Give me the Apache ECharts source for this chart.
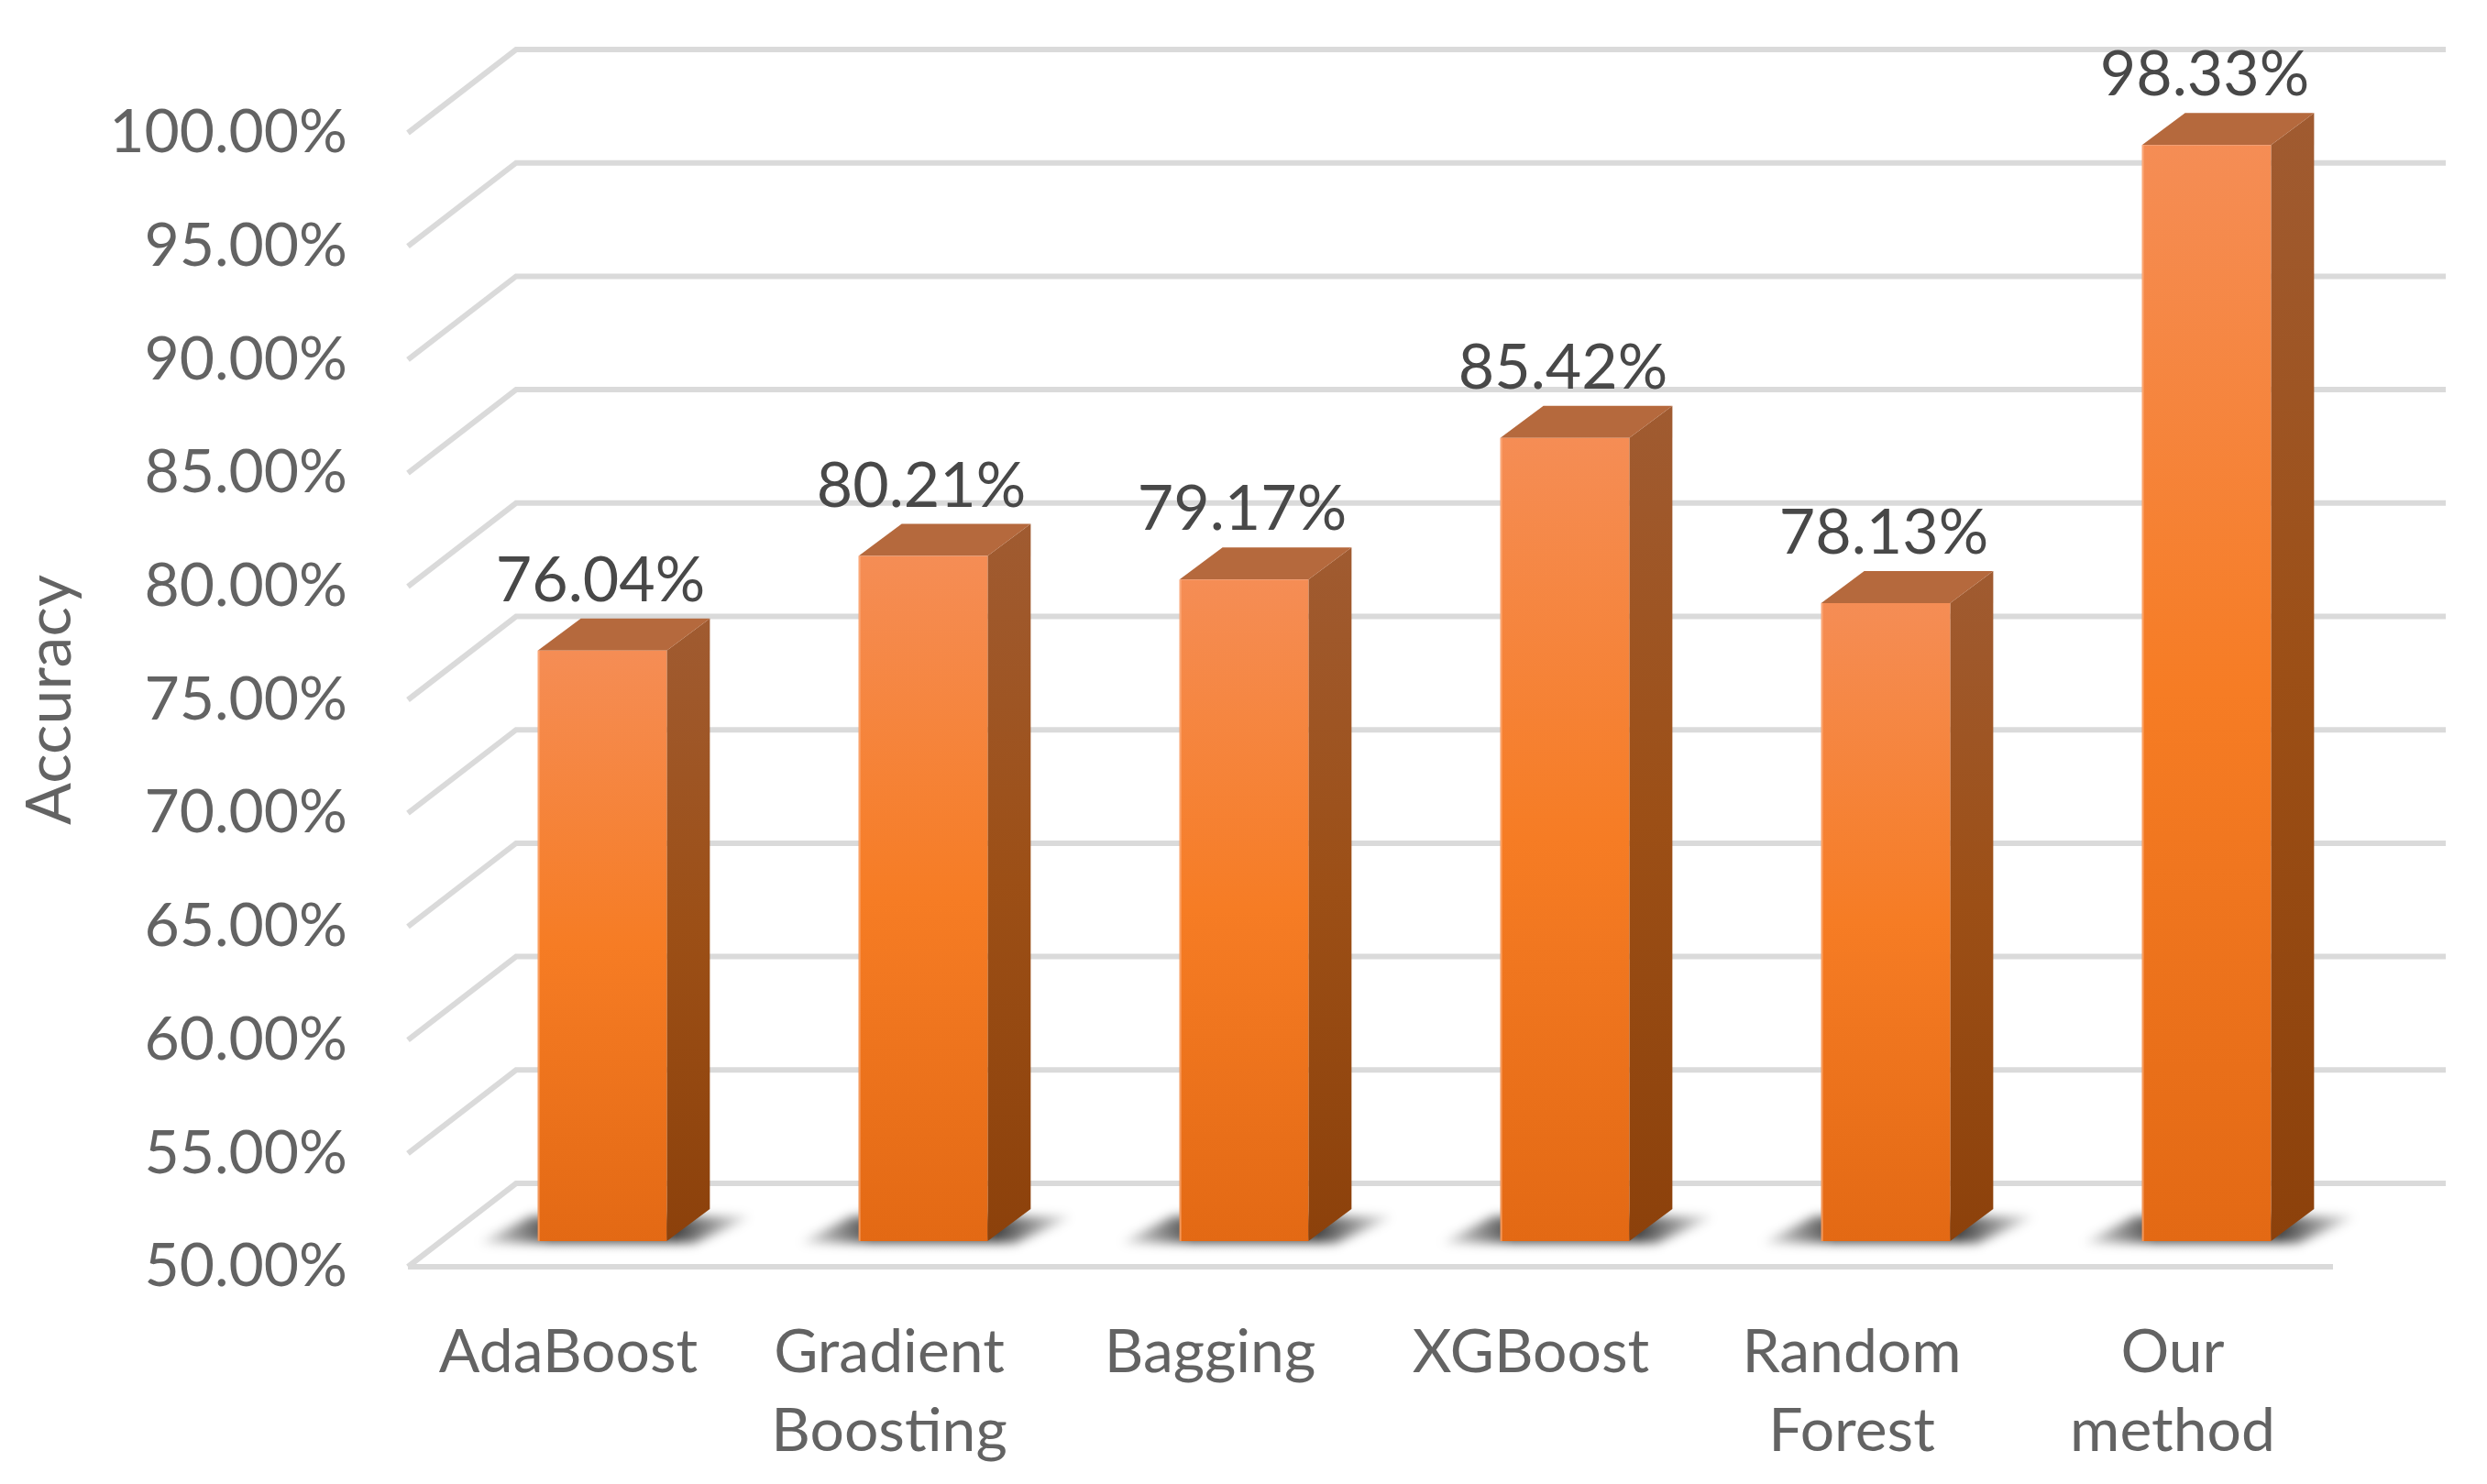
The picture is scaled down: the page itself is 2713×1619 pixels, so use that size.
<!DOCTYPE html>
<html>
<head>
<meta charset="utf-8">
<style>html,body{margin:0;padding:0;background:#fff}#c{width:2713px;height:1619px}</style>
<script src="https://cdn.jsdelivr.net/npm/echarts@6/dist/echarts.min.js"></script>
</head>
<body>
<div id="c"></div>
<script>
const categories = ['AdaBoost', 'Gradient\nBoosting', 'Bagging', 'XGBoost', 'Random\nForest', 'Our\nmethod'];
const accuracy = [76.04, 80.21, 79.17, 85.42, 78.13, 98.33];
const yTicks = [50, 55, 60, 65, 70, 75, 80, 85, 90, 95, 100];

const FONT = 'Lato';
const WALL_DX = 118, WALL_DY = 91;       // depth of the chart's floor
const WALL_RIGHT_EXTRA = 5;
const BAR_DX = 37, BAR_DY = 28;          // bar plane set back from the front plane
const DEPTH_X = 47, DEPTH_Y = 35;        // depth of one bar
const BAR_RATIO = 0.402;
const GRID_COLOR = '#DADADA';
const OFFSCREEN = 4000;                  // shadow-only drawing: shape off canvas, shadow shifted back

const chart = echarts.init(document.getElementById('c'), null, {renderer: 'canvas'});

function grad(stops) {
  return {type: 'linear', x: 0, y: 0, x2: 0, y2: 1,
    colorStops: stops.map((c, i) => ({offset: i / (stops.length - 1), color: c}))};
}

function renderGrid(params, api) {
  const cs = params.coordSys;
  const v = api.value(1);
  const y = api.coord([0, v])[1];
  const left = cs.x, right = cs.x + cs.width;
  const children = [{
    type: 'polyline',
    shape: {points: [[left, y], [left + WALL_DX, y - WALL_DY], [right + WALL_DX + WALL_RIGHT_EXTRA, y - WALL_DY]]},
    style: {stroke: GRID_COLOR, lineWidth: 6, fill: null, lineJoin: 'miter'}
  }];
  if (v === yTicks[0]) {
    children.push({
      type: 'line',
      shape: {x1: left, y1: y, x2: right, y2: y},
      style: {stroke: GRID_COLOR, lineWidth: 6}
    });
  }
  return {type: 'group', children};
}

function renderShadow(params, api) {
  const w = api.size([1, 0])[0] * BAR_RATIO;
  const p = api.coord([api.value(0), yTicks[0]]);
  const x0 = p[0] + BAR_DX - w / 2, x1 = x0 + w, y = p[1] - BAR_DY;
  return {
    type: 'polygon',
    x: -OFFSCREEN,
    shape: {points: [[x0 - 66, y + 2], [x0 - 8, y - 27], [x1 + 96, y - 27], [x1 + 30, y + 2]]},
    style: {
      fill: {type: 'linear', x: 0, y: 0, x2: 1, y2: 0, colorStops: [
        {offset: 0, color: 'rgba(0,0,0,0.1)'},
        {offset: 0.27, color: 'rgba(0,0,0,1)'},
        {offset: 0.72, color: 'rgba(0,0,0,1)'},
        {offset: 1, color: 'rgba(0,0,0,0.05)'}
      ]},
      shadowBlur: 12,
      shadowOffsetX: OFFSCREEN,
      shadowColor: 'rgb(72,72,72)'
    }
  };
}

function renderBar(params, api) {
  const v = api.value(1);
  const w = api.size([1, 0])[0] * BAR_RATIO;
  const top = api.coord([api.value(0), v]);
  const base = api.coord([api.value(0), yTicks[0]]);
  const x0 = top[0] + BAR_DX - w / 2, x1 = x0 + w;
  const yT = top[1] - BAR_DY, yB = base[1] - BAR_DY;
  return {
    type: 'group',
    children: [
      {type: 'polygon',
       shape: {points: [[x1, yT], [x1 + DEPTH_X, yT - DEPTH_Y], [x1 + DEPTH_X, yB - DEPTH_Y], [x1, yB]]},
       style: {fill: grad(['#A05B31', '#9C4F16', '#8C410B'])}},
      {type: 'polygon',
       shape: {points: [[x0, yT], [x0 + DEPTH_X, yT - DEPTH_Y], [x1 + DEPTH_X, yT - DEPTH_Y], [x1, yT]]},
       style: {fill: '#B5693D'}},
      {type: 'rect',
       shape: {x: x0, y: yT, width: w, height: yB - yT},
       style: {fill: grad(['#F58D55', '#F67C24', '#E36914'])}},
      {type: 'line',
       shape: {x1: x0 + 1, y1: yT, x2: x0 + 1, y2: yB},
       style: {stroke: 'rgba(255,190,150,0.55)', lineWidth: 2}},
      {type: 'text',
       x: top[0] + BAR_DX - 2, y: yT - 76,
       style: {text: v.toFixed(2) + '%', x: 0, y: 0, align: 'center', verticalAlign: 'middle',
               font: '68px ' + FONT, fill: '#484848'}}
    ]
  };
}

chart.setOption({
  animation: false,
  backgroundColor: '#FFFFFF',
  grid: {left: 445, right: 168, top: 145, height: 1237, containLabel: false, outerBoundsMode: 'none'},
  xAxis: {
    type: 'category',
    data: categories,
    axisLine: {show: false},
    axisTick: {show: false},
    splitLine: {show: false},
    axisLabel: {
      fontFamily: FONT, fontSize: 66, color: '#636363', lineHeight: 86,
      margin: 51, interval: 0, align: 'center'
    }
  },
  yAxis: {
    type: 'value',
    min: 50, max: 100, interval: 5,
    name: 'Accuracy',
    nameLocation: 'middle',
    nameGap: 390,
    nameRotate: 90,
    nameTextStyle: {fontFamily: FONT, fontSize: 68, color: '#636363', verticalAlign: 'middle'},
    axisLine: {show: false},
    axisTick: {show: false},
    splitLine: {show: false},
    axisLabel: {
      fontFamily: FONT, fontSize: 66, color: '#636363', margin: 66,
      verticalAlign: 'middle',
      padding: [8, 0, 0, 0],
      lineHeight: 74,
      formatter: v => v.toFixed(2) + '%'
    }
  },
  series: [
    {type: 'custom', name: 'grid', renderItem: renderGrid, silent: true, z: 1, clip: false,
     data: yTicks.map(t => [0, t])},
    {type: 'custom', name: 'shadow', renderItem: renderShadow, silent: true, z: 2, clip: false,
     data: accuracy.map((v, i) => [i, v])},
    {type: 'custom', name: 'Accuracy', renderItem: renderBar, z: 3, clip: false,
     data: accuracy.map((v, i) => [i, v])}
  ]
});
</script>
</body>
</html>
